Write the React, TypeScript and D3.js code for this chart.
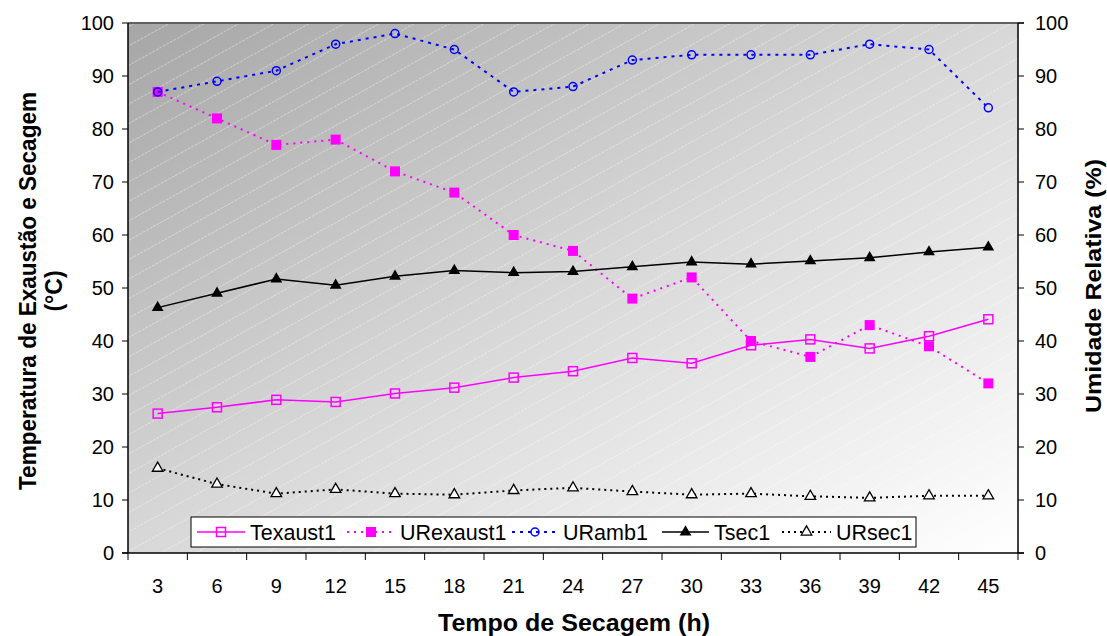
import React from 'react';
import * as d3 from 'd3';

// data
const horas = ['3', '6', '9', '12', '15', '18', '21', '24', '27', '30', '33', '36', '39', '42', '45'];
const texaust1 = [26.3, 27.5, 28.9, 28.5, 30.1, 31.2, 33.1, 34.3, 36.8, 35.8, 39.2, 40.3, 38.6, 40.9, 44.1];
const urexaust1 = [87, 82, 77, 78, 72, 68, 60, 57, 48, 52, 40, 37, 43, 39, 32];
const uramb1 = [87, 89, 91, 96, 98, 95, 87, 88, 93, 94, 94, 94, 96, 95, 84];
const tsec1 = [46.3, 49, 51.7, 50.5, 52.2, 53.3, 52.9, 53.1, 54, 54.9, 54.5, 55.1, 55.7, 56.8, 57.7];
const ursec1 = [16, 13, 11.2, 12, 11.2, 11, 11.8, 12.3, 11.6, 11, 11.2, 10.7, 10.4, 10.8, 10.8];
const yTicks = [0, 10, 20, 30, 40, 50, 60, 70, 80, 90, 100];

const W = 1107, H = 636;
const left = 128, right = 1018, top = 23, bottom = 553;
const font = '"Liberation Sans", Arial, sans-serif';

const xScale = d3.scaleBand<string>().domain(horas).range([left, right]);
const yScale = d3.scaleLinear().domain([0, 100]).range([bottom, top]);
const yRight = d3.scaleLinear().domain([0, 100]).range([bottom, top]);
const cx = (h: string) => (xScale(h) as number) + xScale.bandwidth() / 2;

// series styles
const series = [
    {name: 'Texaust1', vals: texaust1, y: yScale, color: '#ff00ff', dash: '', width: 1.5, marker: 'sqOpen'},
    {name: 'URexaust1', vals: urexaust1, y: yRight, color: '#ff00ff', dash: '2,5', width: 2, marker: 'sqFill'},
    {name: 'URamb1', vals: uramb1, y: yRight, color: '#0000ff', dash: '3,5', width: 2, marker: 'circle'},
    {name: 'Tsec1', vals: tsec1, y: yScale, color: '#000000', dash: '', width: 1.5, marker: 'triFill'},
    {name: 'URsec1', vals: ursec1, y: yRight, color: '#000000', dash: '2,4', width: 2, marker: 'triOpen'},
];

function Marker({kind, x, y, color}: {kind: string, x: number, y: number, color: string}) {
    if (kind === 'sqOpen') return <rect x={x - 4.5} y={y - 4.5} width={9} height={9} fill="none" stroke={color} strokeWidth={1.5}/>;
    if (kind === 'sqFill') return <rect x={x - 5} y={y - 5} width={10} height={10} fill={color}/>;
    if (kind === 'circle') return <circle cx={x} cy={y} r={4} fill="none" stroke={color} strokeWidth={1.5}/>;
    const tri = d3.symbol().type(d3.symbolTriangle).size(kind === 'triFill' ? 60 : 48)() as string;
    if (kind === 'triFill') return <path d={tri} transform={`translate(${x},${y})`} fill={color}/>;
    return <path d={tri} transform={`translate(${x},${y})`} fill="#fff" stroke={color} strokeWidth={1.3}/>;
}

export default function App() {
    const bw = xScale.bandwidth();
    const bandEdges = d3.range(horas.length + 1).map((i) => left + i * bw);

    // legend layout
    const legendX = [197, 347, 512, 662, 782];
    const legendW = [48, 48, 46, 47, 49];

    return (
        <svg width={W} height={H} style={{position: 'absolute', left: 0, top: 0, fontFamily: font}}>
            <defs>
                <linearGradient id="bg" x1="0" y1="0" x2="1" y2="1">
                    <stop offset="0" stopColor="#a6a6a6"/>
                    <stop offset="0.5" stopColor="#d8d8d8"/>
                    <stop offset="1" stopColor="#ffffff"/>
                </linearGradient>
                <pattern id="hatch" width="12" height="17" patternUnits="userSpaceOnUse" patternTransform="rotate(-29)">
                    <line x1="0" y1="0.5" x2="12" y2="0.5" stroke="#ffffff" strokeOpacity={0.45} strokeWidth={0.8} strokeDasharray="3,1"/>
                </pattern>
            </defs>
            <rect x={0} y={0} width={W} height={H} fill="#fff"/>
            <rect x={left} y={top} width={right - left} height={bottom - top} fill="url(#bg)"/>
            <rect x={left} y={top} width={right - left} height={bottom - top} fill="url(#hatch)"/>
            <line x1={left} x2={right + 6} y1={top} y2={top} stroke="#606060" strokeWidth={2}/>

            {/* left axis */}
            <line x1={left} x2={left} y1={top} y2={bottom} stroke="#000" strokeWidth={1.5}/>
            {yTicks.map((t) => (
                <g key={'l' + t}>
                    <line x1={left - 6} x2={left} y1={yScale(t)} y2={yScale(t)} stroke="#000"/>
                    <text x={114} y={yScale(t)} dy="0.36em" textAnchor="end" fontSize={20}>{t}</text>
                </g>
            ))}
            {/* right axis */}
            <line x1={right} x2={right} y1={top} y2={bottom} stroke="#000" strokeWidth={1.5}/>
            {yTicks.map((t) => (
                <g key={'r' + t}>
                    <line x1={right} x2={right + 6} y1={yRight(t)} y2={yRight(t)} stroke="#000"/>
                    <text x={1035} y={yRight(t)} dy="0.36em" textAnchor="start" fontSize={20}>{t}</text>
                </g>
            ))}
            {/* bottom axis */}
            <line x1={left - 6} x2={right + 6} y1={bottom} y2={bottom} stroke="#000" strokeWidth={1.5}/>
            {bandEdges.map((e, i) => (
                <line key={'b' + i} x1={e} x2={e} y1={bottom} y2={bottom + 7} stroke="#000"/>
            ))}
            {horas.map((h) => (
                <text key={'x' + h} x={cx(h)} y={593} textAnchor="middle" fontSize={20}>{h}</text>
            ))}

            {/* titles */}
            <text transform="translate(36,291) rotate(-90)" textAnchor="middle" fontSize={23} fontWeight="bold"
                  textLength={398} lengthAdjust="spacingAndGlyphs">Temperatura de Exaustão e Secagem</text>
            <text transform="translate(62,291) rotate(-90)" textAnchor="middle" fontSize={23} fontWeight="bold">(°C)</text>
            <text transform="translate(1101,286) rotate(-90)" textAnchor="middle" fontSize={22} fontWeight="bold"
                  textLength={254} lengthAdjust="spacingAndGlyphs">Umidade Relativa (%)</text>
            <text x={574} y={631} textAnchor="middle" fontSize={23} fontWeight="bold"
                  textLength={272} lengthAdjust="spacingAndGlyphs">Tempo de Secagem (h)</text>

            {/* series */}
            {series.map((s) => {
                const line = d3.line<number>().x((_, i) => cx(horas[i])).y((d) => s.y(d));
                return (
                    <g key={s.name}>
                        <path d={line(s.vals) as string} fill="none" stroke={s.color} strokeWidth={s.width} strokeDasharray={s.dash || undefined}/>
                        {s.vals.map((v, i) => (
                            <Marker key={i} kind={s.marker} x={cx(horas[i])} y={s.y(v)} color={s.color}/>
                        ))}
                    </g>
                );
            })}

            {/* legend */}
            <rect x={191} y={517} width={725} height={30} fill="#fff" stroke="#000" strokeWidth={1}/>
            {series.map((s, i) => {
                const lx = legendX[i], lw = legendW[i], ly = 532;
                return (
                    <g key={'leg' + s.name}>
                        <line x1={lx} x2={lx + lw} y1={ly} y2={ly} stroke={s.color} strokeWidth={s.width} strokeDasharray={s.dash || undefined}/>
                        <Marker kind={s.marker} x={lx + lw / 2} y={ly} color={s.color}/>
                        <text x={lx + lw + 5} y={ly} dy="0.36em" fontSize={21.5}>{s.name}</text>
                    </g>
                );
            })}
        </svg>
    );
}
